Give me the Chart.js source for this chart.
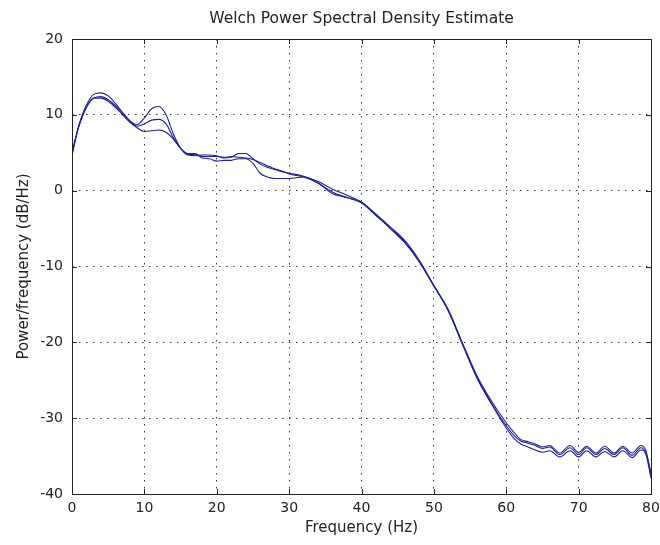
<!DOCTYPE html>
<html>
<head>
<meta charset="utf-8">
<script src="https://cdn.jsdelivr.net/npm/chart.js@4"></script>
<style>
  html, body { margin: 0; padding: 0; background: #fff; }
  canvas { display: block; }
</style>
</head>
<body>
<canvas id="psd" width="660" height="545"></canvas>
<script>
// Frequency points (Hz) the three estimates were read at
const freqs = [0, 0.5, 1, 2, 3, 4, 5, 6, 7, 8, 9, 10, 11, 12, 13, 14, 15, 16, 17, 18, 19, 20,
  21, 22, 23, 24, 25, 26, 27, 28, 29, 30, 32, 34, 36, 38, 40, 42, 44, 46, 48, 50, 52, 54, 56, 58,
  60, 61, 62, 63, 64, 65, 66, 67.4, 68.8, 70, 71.1, 72.4, 73.6, 74.9, 76.1, 77.4, 78.6, 79.3, 80];

// Power/frequency (dB/Hz) for each estimate
const psdA = [5.0, 7.0, 8.8, 11.3, 12.7, 12.9, 12.5, 11.5, 10.3, 9.2, 8.7, 9.6, 10.8, 11.1, 10.0, 7.5, 5.6, 4.8, 4.6, 4.7, 4.7, 4.6,
  4.3, 4.4, 4.9, 4.9, 4.2, 3.5, 3.1, 2.8, 2.5, 2.3, 1.9, 1.2, 0.2, -0.6, -1.5, -3.1, -4.8, -6.6, -9.2, -12.5, -15.7, -20.2, -24.5, -27.8,
  -30.6, -31.8, -32.8, -33.1, -33.4, -33.8, -33.6, -34.6, -33.6, -34.5, -33.7, -34.6, -33.7, -34.6, -33.7, -34.6, -33.6, -34.3, -37.7];
const psdB = [4.8, 6.9, 8.7, 11.0, 12.2, 12.4, 12.0, 11.2, 10.2, 9.2, 8.5, 8.8, 9.3, 9.4, 8.8, 7.0, 5.6, 4.7, 4.8, 4.5, 4.5, 4.5,
  4.4, 4.5, 4.4, 4.3, 4.1, 3.7, 3.3, 2.9, 2.6, 2.2, 1.8, 1.0, -0.2, -0.9, -1.6, -3.3, -5.0, -6.8, -9.4, -12.6, -15.8, -20.3, -24.7, -28.1,
  -31.0, -32.2, -33.0, -33.3, -33.6, -34.0, -33.8, -34.8, -33.9, -34.8, -33.9, -34.8, -34.0, -34.8, -33.9, -34.9, -33.9, -34.6, -37.2];
const psdC = [4.6, 6.8, 8.6, 11.0, 12.2, 12.2, 11.8, 11.0, 10.0, 9.0, 8.3, 7.8, 7.9, 8.0, 7.7, 6.8, 5.6, 4.9, 4.9, 4.3, 4.2, 3.9,
  4.0, 4.0, 4.2, 4.2, 3.6, 2.3, 1.8, 1.6, 1.6, 1.6, 1.8, 1.0, -0.4, -0.9, -1.6, -3.2, -5.0, -6.9, -9.4, -12.5, -15.9, -20.4, -24.8, -28.2,
  -31.3, -32.6, -33.4, -33.8, -34.2, -34.5, -34.3, -35.1, -34.3, -35.1, -34.3, -35.1, -34.4, -35.1, -34.3, -35.2, -34.2, -34.8, -37.9];

const xTicks = [0, 10, 20, 30, 40, 50, 60, 70, 80];
const yTicks = [-40, -30, -20, -10, 0, 10, 20];

const titleText = 'Welch Power Spectral Density Estimate';
const lineColor = '#1f1f98';
const fontFamily = '"DejaVu Sans", Verdana, sans-serif';

function toPoints(ys) {
  return freqs.map((f, i) => ({ x: f, y: ys[i] }));
}

// Box frame, inward tick marks and title centred over the axes, MATLAB style
const boxTicks = {
  id: 'boxTicks',
  afterDatasetsDraw(chart) {
    const { ctx, chartArea: a, scales } = chart;
    ctx.save();
    ctx.strokeStyle = '#222';
    ctx.lineWidth = 1;
    ctx.beginPath();
    xTicks.forEach(v => {
      const px = Math.round(scales.x.getPixelForValue(v)) + 0.5;
      ctx.moveTo(px, a.bottom); ctx.lineTo(px, a.bottom - 5);
      ctx.moveTo(px, a.top); ctx.lineTo(px, a.top + 5);
    });
    yTicks.forEach(v => {
      const py = Math.round(scales.y.getPixelForValue(v)) + 0.5;
      ctx.moveTo(a.left, py); ctx.lineTo(a.left + 5, py);
      ctx.moveTo(a.right, py); ctx.lineTo(a.right - 5, py);
    });
    ctx.stroke();
    ctx.strokeRect(Math.round(a.left) + 0.5, Math.round(a.top) + 0.5,
      Math.round(a.right - a.left), Math.round(a.bottom - a.top));

    ctx.fillStyle = '#222';
    ctx.font = '15.5px ' + fontFamily;
    ctx.textAlign = 'center';
    ctx.textBaseline = 'middle';
    ctx.fillText(titleText, (a.left + a.right) / 2, 19);
    ctx.restore();
  }
};

const ctx = document.getElementById('psd').getContext('2d');

new Chart(ctx, {
  type: 'line',
  data: {
    datasets: [psdA, psdB, psdC].map(ys => ({
      data: toPoints(ys),
      borderColor: lineColor,
      borderWidth: 1.1,
      pointRadius: 0,
      fill: false,
      cubicInterpolationMode: 'monotone'
    }))
  },
  options: {
    responsive: false,
    animation: false,
    events: [],
    layout: { padding: { left: 0, right: 9, top: 39, bottom: 0 } },
    plugins: {
      legend: { display: false },
      tooltip: { enabled: false },
      title: { display: false }
    },
    scales: {
      x: {
        type: 'linear',
        min: 0,
        max: 80,
        afterBuildTicks: s => { s.ticks = xTicks.map(v => ({ value: v })); },
        afterFit: s => { s.height = 51; s.paddingLeft = 0; s.paddingRight = 0; },
        ticks: {
          color: '#222',
          padding: 6,
          maxRotation: 0,
          font: { family: fontFamily, size: 14 }
        },
        grid: {
          color: c => (c.tick && (c.tick.value === 0 || c.tick.value === 80)) ? 'rgba(0,0,0,0)' : '#333',
          lineWidth: 1,
          drawTicks: false
        },
        border: { display: false, dash: [1.5, 5.5] },
        title: {
          display: true,
          text: 'Frequency (Hz)',
          color: '#222',
          font: { family: fontFamily, size: 15 },
          padding: { top: 8, bottom: 8 }
        }
      },
      y: {
        type: 'linear',
        min: -40,
        max: 20,
        afterBuildTicks: s => { s.ticks = yTicks.map(v => ({ value: v })); },
        afterFit: s => { s.width = 72; s.paddingTop = 0; s.paddingBottom = 0; },
        ticks: {
          color: '#222',
          padding: 9,
          font: { family: fontFamily, size: 14 }
        },
        grid: {
          color: c => (c.tick && (c.tick.value === -40 || c.tick.value === 20)) ? 'rgba(0,0,0,0)' : '#333',
          lineWidth: 1,
          drawTicks: false
        },
        border: { display: false, dash: [1.5, 5.5] },
        title: {
          display: true,
          text: 'Power/frequency (dB/Hz)',
          color: '#222',
          font: { family: fontFamily, size: 15 },
          padding: { top: 15, bottom: 15 }
        }
      }
    }
  },
  plugins: [boxTicks]
});
</script>
</body>
</html>
